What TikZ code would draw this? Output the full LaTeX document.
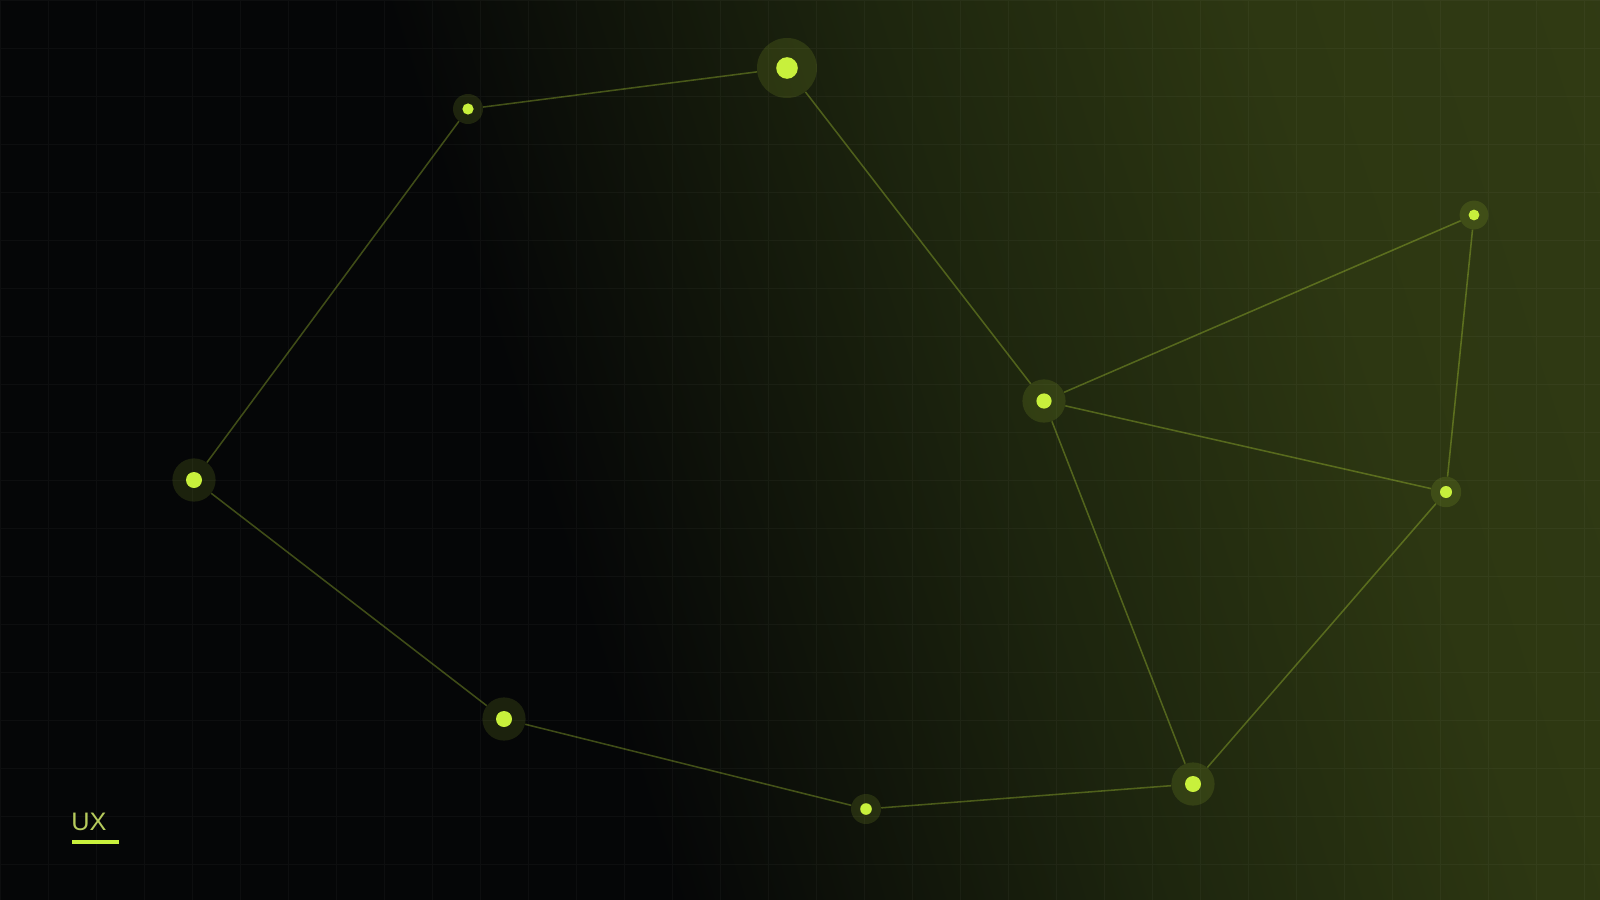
\documentclass[tikz,border=0pt]{standalone}
\usepackage{fontspec}
\setmainfont{Liberation Sans}
\usetikzlibrary{positioning}

\definecolor{accent}{HTML}{C8F03C}
\definecolor{uxtext}{HTML}{B6CB5C}
\definecolor{bgdark}{HTML}{050607}
\definecolor{bgmid}{HTML}{1D250E}
\definecolor{bgolive}{HTML}{2D3712}
\definecolor{bgbright}{HTML}{353F16}
\pgfdeclarehorizontalshading{backdrop}{100bp}{color(0bp)=(bgdark); color(41bp)=(bgdark); color(57bp)=(bgmid); color(70bp)=(bgolive); color(100bp)=(bgbright)}

\begin{document}
\begin{tikzpicture}[x=0.025cm, y=-0.025cm,
	hub/.style={circle, inner sep=0pt, fill=accent, fill opacity=0.12, minimum size=#1},
	link/.style={draw=accent, draw opacity=0.3, line width=1.1pt},
	gridline/.style={draw=white, draw opacity=0.035, line width=0.7pt}]
	
	% Background and grid
	\useasboundingbox (0,0) rectangle (1600,900);
	\shade[shading=backdrop, shading angle=18] (0,0) rectangle (1600,900);
	\draw[gridline, step=1.2cm] (0,0) grid (1600,900);
	
	% Define nodes
	\node [hub=1.5cm] (v1) at (787,68) {};
	\node [hub=0.75cm] (v2) at (468,109) {};
	\node [hub=1.08cm] (v3) at (194,480) {};
	\node [hub=1.08cm] (v4) at (504,719) {};
	\node [hub=0.75cm] (v5) at (866,809) {};
	\node [hub=1.08cm] (v6) at (1193,784) {};
	\node [hub=0.76cm] (v7) at (1446,492) {};
	\node [hub=0.72cm] (v8) at (1474,215) {};
	\node [hub=1.08cm] (v9) at (1044,401) {};
	
	% Links between nodes
	\draw[link] (v2) -- (v1);
	\draw[link] (v1) -- (v9);
	\draw[link] (v9) -- (v8);
	\draw[link] (v9) -- (v7);
	\draw[link] (v8) -- (v7);
	\draw[link] (v7) -- (v6);
	\draw[link] (v9) -- (v6);
	\draw[link] (v6) -- (v5);
	\draw[link] (v5) -- (v4);
	\draw[link] (v4) -- (v3);
	\draw[link] (v3) -- (v2);
	
	% Bright centres
	\foreach \n/\r in {v1/0.27cm, v2/0.14cm, v3/0.2cm, v4/0.2cm, v5/0.145cm, v6/0.2cm, v7/0.15cm, v8/0.135cm, v9/0.19cm}
		\fill[accent] (\n) circle (\r);
	
	% Tag
	\node [anchor=base west, inner sep=0pt, text=uxtext, font=\fontsize{18}{20}\selectfont] (tag) at (71,830) {UX};
	\coordinate (rule) at (72,842);
	\draw[accent, line width=2.2pt] (rule) -- ++(47,0);
\end{tikzpicture}
\end{document}
